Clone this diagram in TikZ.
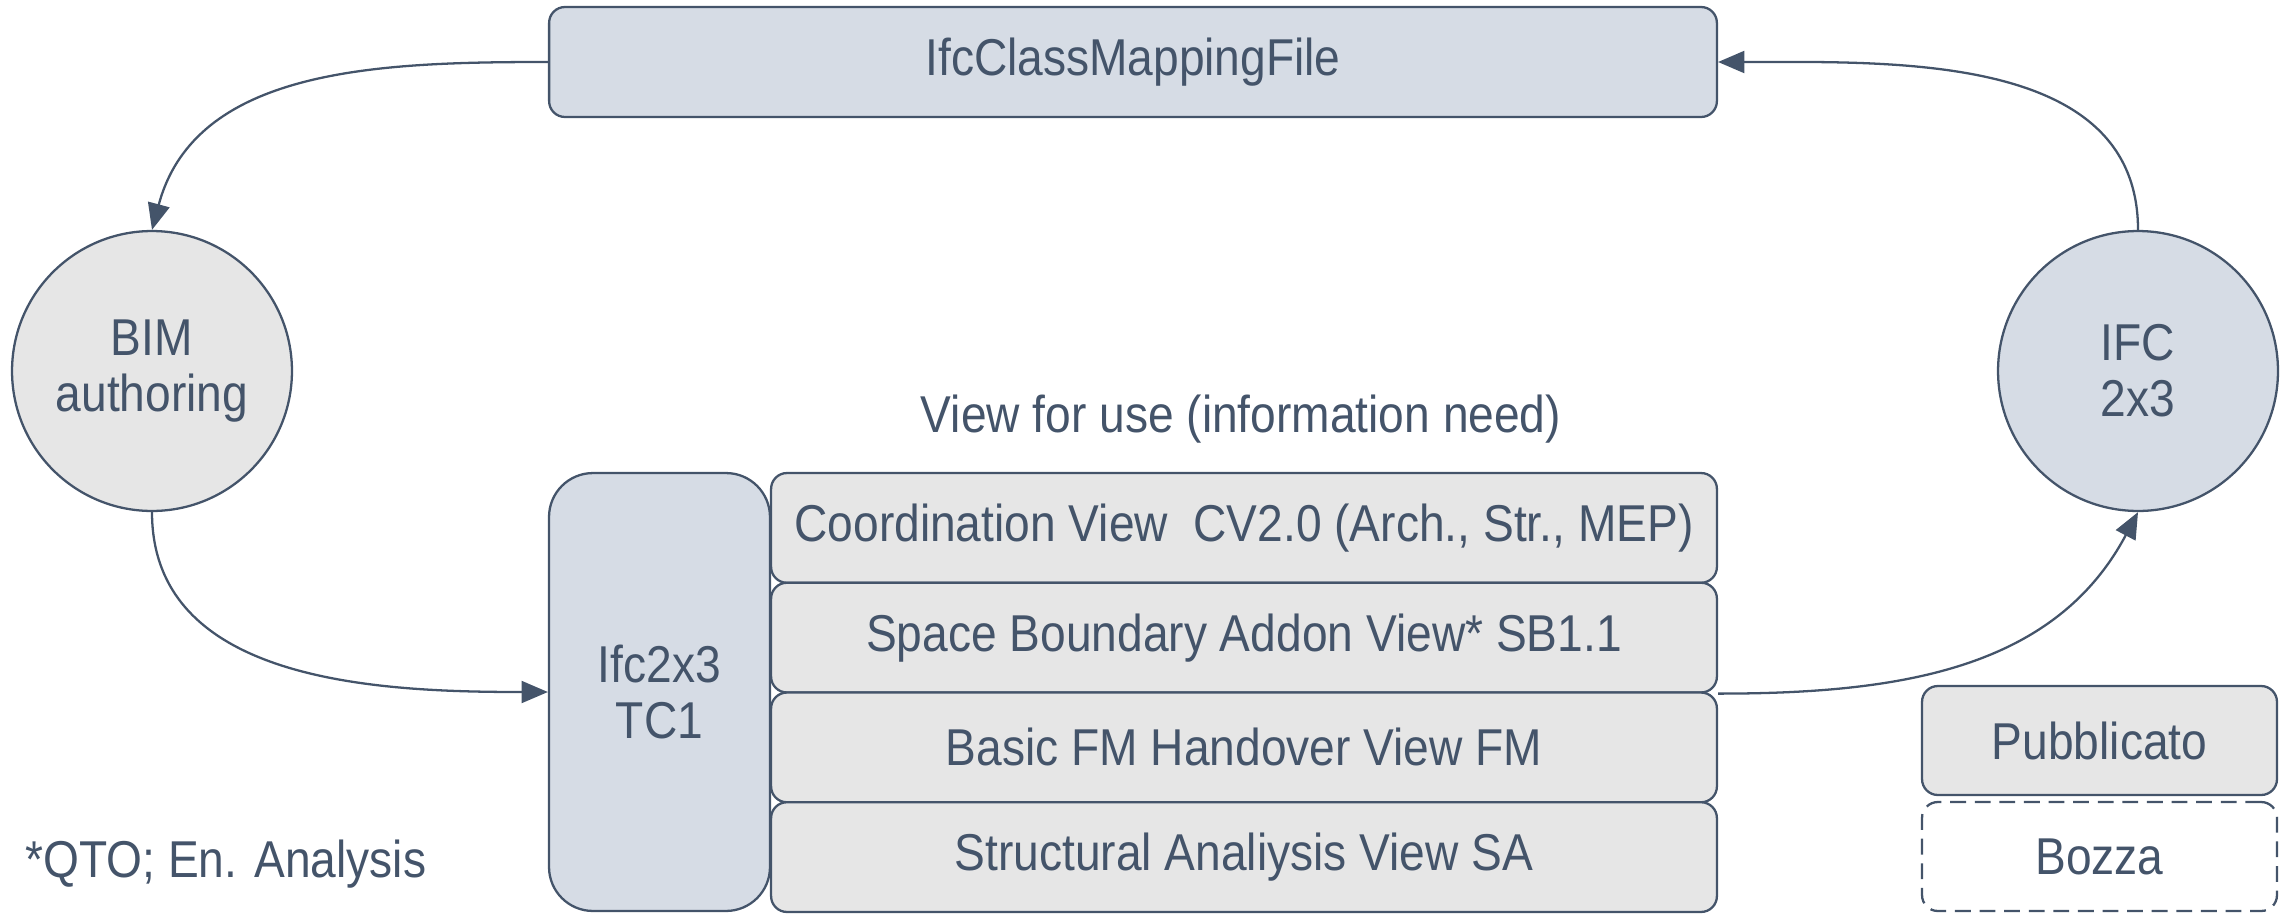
\documentclass[tikz,border=0pt]{standalone}
\usepackage{fontspec}
\setmainfont{Liberation Sans}[FakeStretch=0.89]
\usetikzlibrary{arrows.meta}
\definecolor{ink}{HTML}{44546A}
\definecolor{greyfill}{HTML}{E6E6E6}
\definecolor{bluefill}{HTML}{D6DCE5}
\tikzset{
  box/.style={draw=ink,line width=1.3pt,rounded corners=9pt,inner sep=0pt,text=ink,align=center},
  circ/.style={draw=ink,line width=1.3pt,circle,minimum size=5.6cm,inner sep=0pt,text=ink,align=center},
  viewrow/.style={box,fill=greyfill,minimum width=18.92cm,minimum height=2.195cm},
  flow/.style={draw=ink,line width=1.3pt,-{Triangle[length=15pt,width=12.5pt]}}
}
\begin{document}
\begin{tikzpicture}[x=0.02cm,y=-0.02cm,font=\fontsize{29.5}{32}\selectfont]
\useasboundingbox (0,0) rectangle (2295,913);
\node[box,fill=bluefill,minimum width=23.36cm,minimum height=2.2cm] (map) at (1133,62) {IfcClassMappingFile};
\node[circ,fill=greyfill] (bim) at (152,371) {BIM\\authoring};
\node[circ,fill=bluefill] (ifc) at (2138,371) {IFC\\2x3};
\node[text=ink] (use) at (1241,419) {View for use (information need)};
\node[box,fill=bluefill,rounded corners=25pt,minimum width=4.42cm,minimum height=8.76cm] (tc) at (659.5,692) {Ifc2x3\\TC1};
\node[viewrow] (cv) at (1244,527.9) {Coordination View\ \ CV2.0 (Arch., Str., MEP)};
\node[viewrow] (sb) at (1244,637.6) {Space Boundary Addon View* SB1.1};
\node[viewrow] (fm) at (1244,747.4) {Basic FM Handover View FM};
\node[viewrow] (sa) at (1244,857.1) {Structural Analiysis View SA};
\node[box,fill=greyfill,minimum width=7.1cm,minimum height=2.18cm] (pub) at (2099.5,740.5) {Pubblicato};
\node[box,dash pattern=on 9pt off 5pt,minimum width=7.1cm,minimum height=2.18cm] (draft) at (2099.5,856.5) {Bozza};
\node[text=ink,anchor=base west,inner sep=0pt] (note) at (25,877) {*QTO; En. Analysis};
% cycle
\draw[flow] (map.west) to[out=180,in=75] (bim.north);
\draw[flow] (bim.south) to[out=-90,in=180] (tc.west);
\draw[flow] (sb.south east) to[out=0,in=-118] (ifc.south);
\draw[flow] (ifc.north) to[out=90,in=0] (map.east);
\end{tikzpicture}
\end{document}
